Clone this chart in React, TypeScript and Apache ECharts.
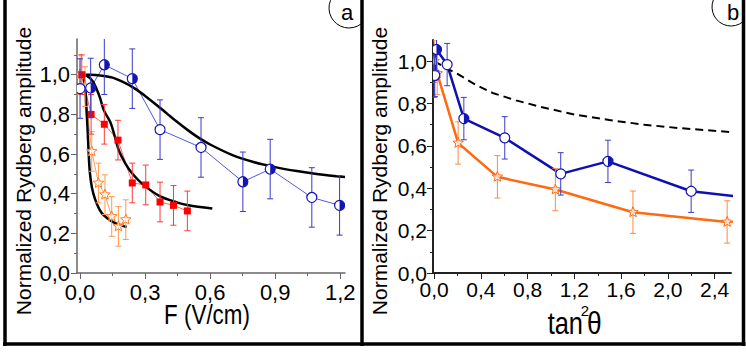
import React, { useEffect, useRef } from "react";
import * as echarts from "echarts";

// ---------- Panel a : amplitude vs field ----------
const blueA_F = [0.0, 0.049, 0.112, 0.241, 0.369, 0.558, 0.751, 0.877, 1.069, 1.197];
const blueA_amp = [0.93, 0.933, 1.05, 0.98, 0.723, 0.633, 0.46, 0.524, 0.381, 0.341];
const blueA_err = [0.15, 0.15, 0.15, 0.15, 0.15, 0.15, 0.15, 0.15, 0.15, 0.15];
const blueA_half = [false, true, true, true, false, false, true, true, false, true];

const redA_F = [0.008, 0.051, 0.112, 0.175, 0.241, 0.303, 0.369, 0.431, 0.495];
const redA_amp = [1.0, 0.8, 0.75, 0.67, 0.454, 0.444, 0.358, 0.341, 0.313];
const redA_err = [0.1, 0.1, 0.1, 0.1, 0.1, 0.1, 0.1, 0.1, 0.1];

const orangeA_F = [0.0, 0.023, 0.054, 0.085, 0.115, 0.146, 0.177, 0.211];
const orangeA_amp = [1.0, 0.94, 0.613, 0.454, 0.395, 0.285, 0.235, 0.269];
const orangeA_err = [0.1, 0.1, 0.1, 0.1, 0.1, 0.1, 0.1, 0.1];

const fitBlueF = [0, 0.05, 0.1, 0.15, 0.2, 0.25, 0.3, 0.35, 0.4, 0.45, 0.5, 0.55, 0.6, 0.7, 0.8, 0.9, 1.0, 1.1, 1.222];
const fitBlueAmp = [1.0, 1.0, 0.995, 0.985, 0.962, 0.932, 0.893, 0.85, 0.805, 0.76, 0.718, 0.68, 0.648, 0.596, 0.56, 0.534, 0.514, 0.498, 0.484];

const fitRedF = [0, 0.03, 0.06, 0.09, 0.11, 0.14, 0.16, 0.18, 0.21, 0.24, 0.29, 0.37, 0.45, 0.5, 0.61];
const fitRedAmp = [1.0, 0.995, 0.965, 0.89, 0.82, 0.76, 0.69, 0.615, 0.55, 0.503, 0.447, 0.386, 0.355, 0.342, 0.325];

const fitOrangeF = [0, 0.015, 0.025, 0.03, 0.035, 0.04, 0.045, 0.055, 0.07, 0.09, 0.11, 0.14, 0.17, 0.215];
const fitOrangeAmp = [1.0, 0.99, 0.92, 0.82, 0.72, 0.6, 0.51, 0.43, 0.37, 0.32, 0.29, 0.265, 0.248, 0.232];

// ---------- Panel b : amplitude vs tan^2(theta) ----------
const blueB_t = [0.0, 0.005, 0.02, 0.111, 0.254, 0.604, 1.083, 1.487, 2.199, 2.9];
const blueB_amp = [0.93, 0.933, 1.055, 0.984, 0.729, 0.638, 0.468, 0.527, 0.386, 0.341];
const blueB_err = [0.1, 0.1, 0.1, 0.1, 0.1, 0.1, 0.1, 0.1, 0.1, 0.1];
const blueB_half = [false, false, true, false, true, false, false, true, false, true];

const orangeB_t = [0.0, 0.026, 0.205, 0.541, 1.037, 1.701, 2.507, 3.2];
const orangeB_amp = [1.0, 0.942, 0.614, 0.454, 0.394, 0.287, 0.241, 0.269];
const orangeB_err = [0.1, 0.1, 0.1, 0.1, 0.1, 0.1, 0.1, 0.1];

const ratioT = [0, 0.1, 0.2, 0.35, 0.5, 0.7, 0.9, 1.2, 1.5, 1.8, 2.1, 2.54];
const ratioAmp = [1.0, 0.968, 0.94, 0.89, 0.85, 0.815, 0.786, 0.748, 0.722, 0.7, 0.684, 0.665];

// ---------- ticks ----------
const xTicksA = [0, 0.3, 0.6, 0.9, 1.2];
const xMinorA = [0.15, 0.45, 0.75, 1.05];
const yTicks = [0, 0.2, 0.4, 0.6, 0.8, 1.0];
const yMinorA = [0.1, 0.3, 0.5, 0.7, 0.9, 1.1];
const xTicksB = [0, 0.4, 0.8, 1.2, 1.6, 2.0, 2.4];
const xMinorB = [0.2, 0.6, 1.0, 1.4, 1.8, 2.2];
const yMinorB = [0.1, 0.3, 0.5, 0.7, 0.9];

const FONT = '"Liberation Sans", Arial, Helvetica, sans-serif';
const fmt = (v: number) => v.toFixed(1).replace(".", ",");
const zip = (xs: number[], ys: number[]) => xs.map((x, i) => [x, ys[i]]);

function starPoints(cx: number, cy: number, R: number, r: number) {
  const pts: number[][] = [];
  for (let i = 0; i < 10; i++) {
    const a = -Math.PI / 2 + (i * Math.PI) / 5;
    const rad = i % 2 ? r : R;
    pts.push([cx + rad * Math.cos(a), cy + rad * Math.sin(a)]);
  }
  return pts;
}

function markerSeries(
  xs: number[], ys: number[], es: number[], kind: string,
  color: string, barColor: string, axis: number, half?: boolean[]
) {
  return {
    type: "custom",
    xAxisIndex: axis,
    yAxisIndex: axis,
    clip: true,
    z: 5,
    data: xs.map((x, i) => [x, ys[i], es[i], half && half[i] ? 1 : 0]),
    renderItem: (_p: any, api: any) => {
      const x = api.value(0), y = api.value(1), e = api.value(2), h = api.value(3);
      const c = api.coord([x, y]);
      const t = api.coord([x, y + e]);
      const b = api.coord([x, y - e]);
      const cap = 3;
      const ls = { stroke: barColor, lineWidth: 1 };
      const children: any[] = [
        { type: "line", shape: { x1: c[0], y1: t[1], x2: c[0], y2: b[1] }, style: ls },
        { type: "line", shape: { x1: c[0] - cap, y1: t[1], x2: c[0] + cap, y2: t[1] }, style: ls },
        { type: "line", shape: { x1: c[0] - cap, y1: b[1], x2: c[0] + cap, y2: b[1] }, style: ls },
      ];
      if (kind === "circle") {
        children.push({ type: "circle", shape: { cx: c[0], cy: c[1], r: 5 }, style: { fill: "#fff", stroke: color, lineWidth: 1.2 } });
        if (h) {
          children.push({
            type: "sector",
            shape: { cx: c[0], cy: c[1], r: 5, r0: 0, startAngle: -Math.PI / 2, endAngle: Math.PI / 2, clockwise: true },
            style: { fill: color },
          });
        }
      } else if (kind === "square") {
        children.push({ type: "rect", shape: { x: c[0] - 3.5, y: c[1] - 3.5, width: 7, height: 7 }, style: { fill: color } });
      } else {
        children.push({
          type: "polygon",
          shape: { points: starPoints(c[0], c[1], 5.5, 2.4) },
          style: { fill: "rgba(255,255,255,0.7)", stroke: color, lineWidth: 1 },
        });
      }
      return { type: "group", children };
    },
  };
}

function lineSeries(xs: number[], ys: number[], color: string, width: number, axis: number, extra: any = {}) {
  return {
    type: "line",
    xAxisIndex: axis,
    yAxisIndex: axis,
    data: zip(xs, ys),
    symbol: "none",
    lineStyle: { color, width },
    z: 2,
    silent: true,
    ...extra,
  };
}

function valueAxis(grid: number, min: number, max: number, ticks: number[], pos: string, axisColor: string, axisWidth: number, fontSize: number, margin: number) {
  return {
    type: "value",
    gridIndex: grid,
    min,
    max,
    position: pos,
    axisLine: { show: true, onZero: false, lineStyle: { color: axisColor, width: axisWidth } },
    axisTick: { show: true, customValues: ticks, length: 6, lineStyle: { color: axisColor, width: 1 } },
    axisLabel: { show: true, customValues: ticks, formatter: fmt, fontSize, color: "#000", fontFamily: FONT, margin },
    splitLine: { show: false },
  };
}

function minorAxis(grid: number, min: number, max: number, ticks: number[], pos: string, axisColor: string) {
  return {
    type: "value",
    gridIndex: grid,
    min,
    max,
    position: pos,
    offset: 0,
    axisLine: { show: false, onZero: false },
    axisTick: { show: true, customValues: ticks, length: 3, lineStyle: { color: axisColor, width: 1 } },
    axisLabel: { show: false },
    splitLine: { show: false },
  };
}

export default function App() {
  const ref = useRef<HTMLDivElement>(null);
  useEffect(() => {
    if (!ref.current) return;
    const chart = echarts.init(ref.current, null, { renderer: "svg" });
    const axA = "#666";
    const axB = "#222";
    const option: any = {
      animation: false,
      backgroundColor: "#fff",
      grid: [
        { left: 77, top: 39, width: 268, height: 234, containLabel: false, outerBoundsMode: "none" },
        { left: 433, top: 40, width: 298, height: 233, containLabel: false, outerBoundsMode: "none" },
      ],
      xAxis: [
        valueAxis(0, -0.014, 1.222, xTicksA, "bottom", axA, 1.5, 22, 8),
        minorAxis(0, -0.014, 1.222, xMinorA, "bottom", axA),
        valueAxis(1, -0.01, 2.54, xTicksB, "bottom", axB, 2, 21, 6),
        minorAxis(1, -0.01, 2.54, xMinorB, "bottom", axB),
      ],
      yAxis: [
        valueAxis(0, 0, 1.18, yTicks, "left", axA, 1.5, 22, 7),
        minorAxis(0, 0, 1.18, yMinorA, "left", axA),
        valueAxis(1, 0, 1.1, yTicks, "left", axB, 2, 21, 6),
        minorAxis(1, 0, 1.1, yMinorB, "left", axB),
      ],
      series: [
        // panel a connecting lines
        lineSeries(blueA_F, blueA_amp, "#5555e0", 1, 0),
        lineSeries(redA_F, redA_amp, "#ff6060", 1, 0),
        lineSeries(orangeA_F, orangeA_amp, "#ffa060", 1, 0),
        // panel a fits
        lineSeries(fitBlueF, fitBlueAmp, "#000", 2.5, 0, { smooth: 0.3, z: 3 }),
        lineSeries(fitRedF, fitRedAmp, "#000", 2.5, 0, { smooth: 0.3, z: 3 }),
        lineSeries(fitOrangeF, fitOrangeAmp, "#000", 2.5, 0, { smooth: 0.3, z: 3 }),
        // panel a markers
        markerSeries(orangeA_F, orangeA_amp, orangeA_err, "star", "#ff7a20", "#ff9a50", 0),
        markerSeries(redA_F, redA_amp, redA_err, "square", "#ff0000", "#ff3a3a", 0),
        markerSeries(blueA_F, blueA_amp, blueA_err, "circle", "#1515b5", "#3a3acc", 0, blueA_half),
        // panel b
        lineSeries(ratioT, ratioAmp, "#000", 2, 2, { lineStyle: { color: "#000", width: 2, type: [8, 5] }, z: 3 }),
        lineSeries(orangeB_t, orangeB_amp, "#ff6a10", 2.5, 2),
        lineSeries(blueB_t, blueB_amp, "#1010b0", 2.5, 2),
        markerSeries(orangeB_t, orangeB_amp, orangeB_err, "star", "#ff6a10", "#ff8a40", 2),
        markerSeries(blueB_t, blueB_amp, blueB_err, "circle", "#1515b5", "#3a3acc", 2, blueB_half),
      ],
      graphic: [
        // frame
        { type: "line", shape: { x1: 5, y1: -2, x2: 5, y2: 346 }, style: { stroke: "#000", lineWidth: 3.5 } },
        { type: "line", shape: { x1: 362, y1: -2, x2: 362, y2: 346 }, style: { stroke: "#000", lineWidth: 3.5 } },
        { type: "line", shape: { x1: 743.5, y1: -2, x2: 743.5, y2: 346 }, style: { stroke: "#000", lineWidth: 3.5 } },
        { type: "line", shape: { x1: 3, y1: 344, x2: 745.5, y2: 344 }, style: { stroke: "#000", lineWidth: 3.5 } },
        // panel labels
        { type: "arc", shape: { cx: 349, cy: 8, r: 20, startAngle: 0.93, endAngle: 4.4, clockwise: true }, style: { stroke: "#000", lineWidth: 1, fill: null } },
        { type: "text", x: 347, y: 12, style: { text: "a", fontSize: 22, fontFamily: FONT, fill: "#000", align: "center", verticalAlign: "middle" } },
        { type: "arc", shape: { cx: 731, cy: 7, r: 19, startAngle: 0.89, endAngle: 4.4, clockwise: true }, style: { stroke: "#000", lineWidth: 1, fill: null } },
        { type: "text", x: 733, y: 12, style: { text: "b", fontSize: 22, fontFamily: FONT, fill: "#000", align: "center", verticalAlign: "middle" } },
        // axis titles
        { type: "text", x: 23, y: 171, rotation: Math.PI / 2, style: { text: "Normalized Rydberg amplitude", fontSize: 21, fontFamily: FONT, fill: "#000", align: "center", verticalAlign: "middle" } },
        { type: "text", x: 379, y: 171, rotation: Math.PI / 2, style: { text: "Normalized Rydberg amplitude", fontSize: 21, fontFamily: FONT, fill: "#000", align: "center", verticalAlign: "middle" } },
        { type: "text", x: 207, y: 314, scaleX: 0.8, style: { text: "F (V/cm)", fontSize: 28, fontFamily: FONT, fill: "#000", align: "center", verticalAlign: "middle" } },
        { type: "text", x: 583, y: 323, scaleX: 0.82, style: { text: "tan", fontSize: 31, fontFamily: FONT, fill: "#000", align: "right", verticalAlign: "middle" } },
        { type: "text", x: 585, y: 310, style: { text: "2", fontSize: 15, fontFamily: FONT, fill: "#000", align: "center", verticalAlign: "middle" } },
        { type: "text", x: 587, y: 323, scaleX: 0.85, style: { text: "θ", fontSize: 31, fontFamily: FONT, fill: "#000", align: "left", verticalAlign: "middle" } },
      ],
    };
    chart.setOption(option);
    return () => chart.dispose();
  }, []);
  return <div ref={ref} style={{ position: "absolute", left: 0, top: 0, width: 746, height: 354 }} />;
}
